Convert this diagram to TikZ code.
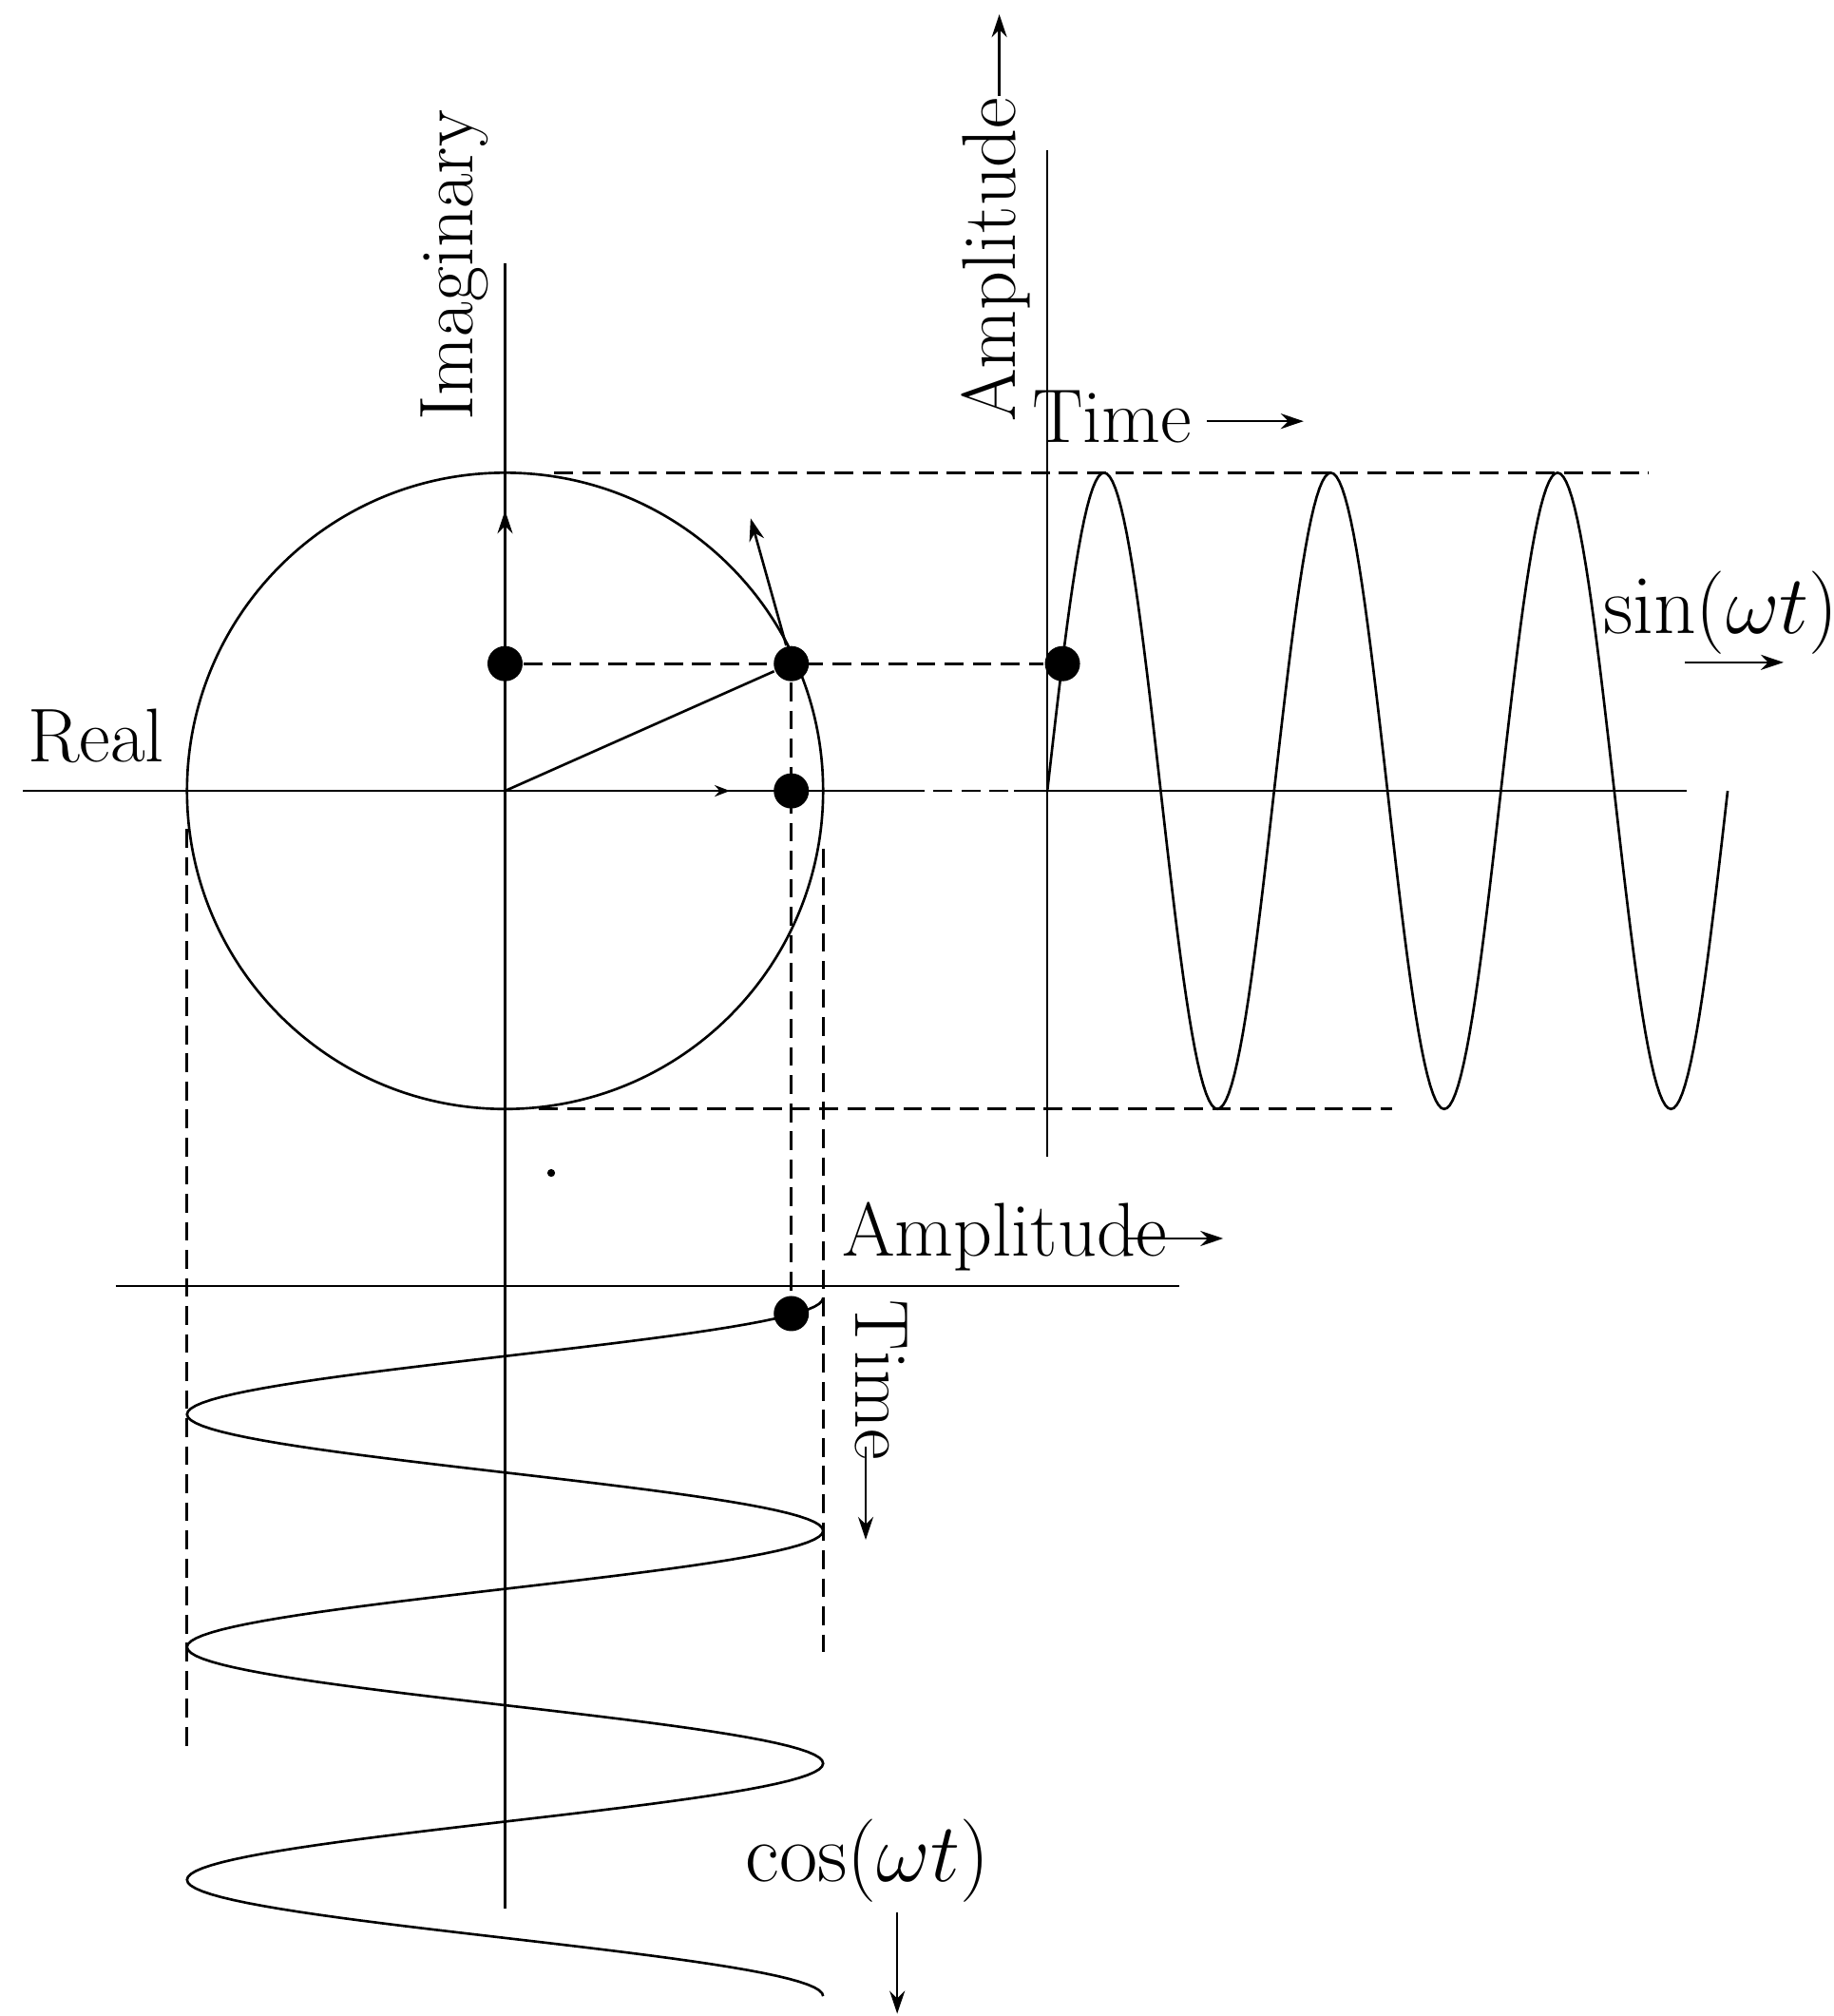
\documentclass[tikz,border=0pt]{standalone}
\usetikzlibrary{arrows.meta}
\begin{document}
\begin{tikzpicture}[>={Stealth[length=2.4mm,width=1.6mm]}, scale=3.347, line width=0.75pt,
		dot/.style={circle, fill, inner sep=0pt, minimum size=3.7mm},
		proj/.style={dash pattern=on 5.6pt off 2.8pt},
		lbl/.style={inner sep=0pt, font=\fontsize{22.8}{27}\selectfont},
		mlbl/.style={inner sep=0pt, font=\fontsize{23.2}{28}\selectfont},
		tiny/.style={->, >={Stealth[length=1.6mm,width=1.2mm]}}]
	\useasboundingbox (-1.588,-3.851) rectangle (4.178,2.486);
	\coordinate (O) at (0,0);
	% unit circle and axes
	\draw (O) circle (1);
	\draw (-1.516,0) -- (1.259,0);
	\draw[proj] (1.259,0) -- (1.6,0);
	\draw (1.6,0) -- (3.715,0);
	\draw (0,1.657) -- (0,-3.514);
	\draw (1.705,2.014) -- (1.705,-1.151);
	\draw (-1.224,-1.556) -- (2.120,-1.556);
	% waves
	\draw plot[domain=0:1080, samples=241] ({1.705+0.713*\x/360}, {sin(\x)});
	\draw plot[domain=0:1080, samples=241] ({cos(\x)}, {-1.594-0.7315*\x/360});
	% points
	\node[dot] (dP) at (0.90,0.40) {};
	\node[dot] (dI) at (0,0.40) {};
	\node[dot] (dR) at (0.90,0) {};
	\node[dot] (dS) at (1.7525,0.40) {};
	\node[dot] (dC) at (0.90,-1.643) {};
	\fill (0.145,-1.201) circle (0.35pt);
	\draw (O) -- (dP);
	\draw[proj] (dI) -- (dS);
	\draw[proj] (dP) -- (dC);
	\draw[proj] (0.154,1) -- (3.596,1);
	\draw[proj] (0.106,-1) -- (2.789,-1);
	\draw[proj] (-1,-0.12) -- (-1,-3.018);
	\draw[proj] (1,-0.182) -- (1,-2.707);
	\coordinate (tanTip) at (0.772,0.857);
	\draw[->] (dP) -- (tanTip);
	\draw[->] (O) -- (0,0.881);
	\draw[tiny] (O) -- (0.707,0);
	% labels
	\node[lbl] (real) at (-1.286,0.173) {Real};
	\node[lbl, rotate=90] (imag) at (-0.159,1.652) {Imaginary};
	\node[lbl, rotate=90] (ampA) at (1.543,1.670) {Amplitude};
	\node[lbl] (timeA) at (1.908,1.177) {Time};
	\node[mlbl] (sinl) at (3.822,0.559) {$\sin(\omega t)$};
	\node[lbl] (ampC) at (1.570,-1.401) {Amplitude};
	\node[lbl, rotate=-90] (timeC) at (1.184,-1.852) {Time};
	\node[mlbl] (cosl) at (1.140,-3.364) {$\cos(\omega t)$};
	% direction arrows
	\coordinate (ampTip) at (1.554,2.441);
	\draw[->] (ampA.east -| ampTip) -- (ampTip);
	\coordinate (tA0) at (2.207,1.162);
	\coordinate (tA1) at (2.511,1.162);
	\draw[->] (tA0) -- (tA1);
	\coordinate (sA0) at (3.709,0.404);
	\coordinate (sA1) at (4.020,0.404);
	\draw[->] (sA0) -- (sA1);
	\coordinate (aC0) at (1.959,-1.407);
	\coordinate (aC1) at (2.258,-1.407);
	\draw[->] (aC0) -- (aC1);
	\coordinate (tC0) at (1.134,-2.062);
	\coordinate (tC1) at (1.134,-2.354);
	\draw[->] (tC0) -- (tC1);
	\coordinate (cA0) at (1.233,-3.524);
	\coordinate (cA1) at (1.233,-3.844);
	\draw[->] (cA0) -- (cA1);
\end{tikzpicture}
\end{document}
